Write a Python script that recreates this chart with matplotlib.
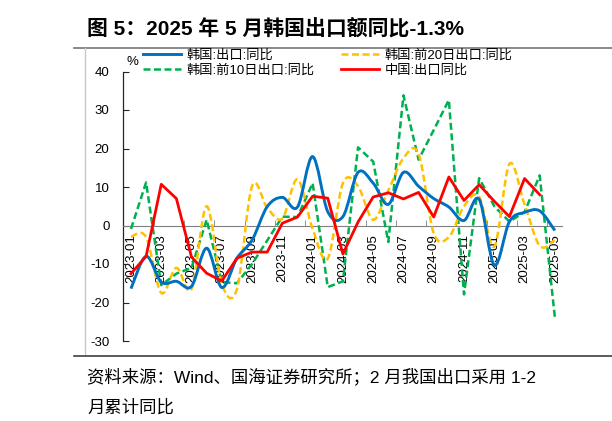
import numpy as np
import matplotlib
matplotlib.use('Agg')
import matplotlib.pyplot as plt
from matplotlib.path import Path
from matplotlib.patches import PathPatch
from matplotlib.lines import Line2D
from matplotlib.font_manager import FontProperties

plt.rcParams['font.family'] = ['Liberation Sans', 'Noto Sans CJK SC']
plt.rcParams['axes.unicode_minus'] = False

# data (%, yoy)
months = ['2023-01', '2023-02', '2023-03', '2023-04', '2023-05', '2023-06',
          '2023-07', '2023-08', '2023-09', '2023-10', '2023-11', '2023-12',
          '2024-01', '2024-02', '2024-03', '2024-04', '2024-05', '2024-06',
          '2024-07', '2024-08', '2024-09', '2024-10', '2024-11', '2024-12',
          '2025-01', '2025-02', '2025-03', '2025-04', '2025-05']
kr_export = [-16.4, -8.0, -14.7, -14.5, -15.8, -5.9, -16.1, -8.5, -3.8, 4.9,
             7.3, 4.8, 17.9, 3.6, 2.3, 13.8, 11.0, 5.5, 13.8, 10.2,
             7.0, 4.8, 1.3, 6.8, -10.3, 1.0, 3.4, 3.8, -1.3]
kr_20d = [-2.9, -3.0, -17.5, -11.0, -16.5, 5.0, -15.2, -16.5, 10.2, 4.6,
          1.8, 12.0, -0.9, -8.6, 11.0, 10.2, 1.5, 9.1, 17.5, 18.6,
          -2.0, -3.0, 5.0, 7.5, -5.5, 16.0, 5.5, -5.3, -3.8]
kr_10d = [-0.9, 11.2, -15.5, -12.5, -11.0, 1.5, -14.7, -15.0, -10.0, -3.9,
          2.3, 2.2, 11.0, -16.0, -14.5, 20.3, 16.6, -4.3, 33.8, 17.1,
          24.8, 32.6, -17.9, 12.3, 5.0, 1.0, 3.5, 13.0, -23.8]
cn_export = [-12.5, -8.0, 10.7, 7.0, -8.2, -12.4, -14.4, -8.5, -6.9, -6.9,
             0.6, 2.2, 7.6, 7.1, -7.4, 0.9, 7.4, 8.5, 6.9, 8.6,
             2.2, 12.6, 6.5, 10.6, 6.3, 2.3, 12.2, 8.0, np.nan]

c_blue = '#0070C0'
c_yellow = '#FFC000'
c_green = '#00B050'
c_red = '#FF0000'
dash = (0, (2.8, 1.4))


def smooth_path(xs, ys):
    # excel-like smoothed line: cubic bezier through every point
    pts = np.column_stack([xs, ys]).astype(float)
    n = len(pts)
    verts = [pts[0]]
    codes = [Path.MOVETO]
    for i in range(n - 1):
        p0 = pts[max(i - 1, 0)]
        p1 = pts[i]
        p2 = pts[i + 1]
        p3 = pts[min(i + 2, n - 1)]
        verts += [p1 + (p2 - p0) / 6, p2 - (p3 - p1) / 6, p2]
        codes += [Path.CURVE4] * 3
    return Path(verts, codes)


W, H = 612, 421
fig = plt.figure(figsize=(W / 100, H / 100), dpi=100)
ax = fig.add_axes([123.4 / W, 1 - 341 / H, 439 / W, 269.5 / H])

x = np.arange(len(months))
ax.plot(x, kr_10d, color=c_green, lw=1.8, linestyle=dash, zorder=3)
ax.add_patch(PathPatch(smooth_path(x, kr_20d), fill=False, edgecolor=c_yellow,
                       lw=1.8, linestyle=dash, zorder=3))
ax.add_patch(PathPatch(smooth_path(x, kr_export), fill=False, edgecolor=c_blue,
                       lw=2.1, zorder=4))
ax.plot(x, cn_export, color=c_red, lw=2.0, zorder=5)

ax.set_xlim(-0.5, len(months) - 0.5)
ax.set_ylim(-30, 40)

for s in ['top', 'right']:
    ax.spines[s].set_visible(False)
ax.spines['bottom'].set_position(('data', 0))
ax.spines['bottom'].set_color('#7F7F7F')
ax.spines['left'].set_color('#262626')
ax.spines['left'].set_linewidth(0.9)

ax.set_yticks(range(-30, 41, 10))
ax.tick_params(axis='y', direction='in', length=4, pad=10, labelsize=9.5,
               color='#262626')
ax.set_xticks(x[::2])
ax.set_xticklabels(months[::2], rotation=90)
ax.set_xticks(np.arange(1.5, len(months) - 1, 2), minor=True)
ax.tick_params(axis='x', which='major', length=0, pad=6, labelsize=9.5)
ax.tick_params(axis='x', which='minor', direction='in', length=4, color='#7F7F7F')

fig.text(132 / W, 1 - 62 / H, '%', fontsize=9.5, ha='center', va='center')

# legends
lp = FontProperties(family=['Liberation Sans', 'Noto Sans CJK SC'], size=9.5)
h1 = [Line2D([], [], color=c_blue, lw=2.1),
      Line2D([], [], color=c_green, lw=1.8, linestyle=dash)]
h2 = [Line2D([], [], color=c_yellow, lw=1.8, linestyle=dash),
      Line2D([], [], color=c_red, lw=2.0)]
kw = dict(loc='upper left', frameon=False, borderpad=0, borderaxespad=0,
          handlelength=2.9, handletextpad=0.4, labelspacing=0.22, prop=lp)
fig.legend(h1, ['韩国:出口:同比', '韩国:前10日出口:同比'],
           bbox_to_anchor=(143 / W, 1 - 49 / H), **kw)
fig.legend(h2, ['韩国:前20日出口:同比', '中国:出口同比'],
           bbox_to_anchor=(341 / W, 1 - 49 / H), **kw)

# title, frame lines, footer
fig.text(87 / W, 1 - 29 / H, '图 5：2025 年 5 月韩国出口额同比-1.3%',
         fontsize=15, fontweight='bold', ha='left', va='center')
fig.add_artist(Line2D([74 / W, 1], [1 - 47.6 / H] * 2, color='#808080', lw=1.3))
fig.add_artist(Line2D([85 / W, 85 / W], [1 - 48 / H, 1 - 355 / H],
                      color='#C8C8C8', lw=1.0))
fig.add_artist(Line2D([74 / W, 1], [1 - 356 / H] * 2, color='#404040', lw=1.2))
fig.text(87 / W, 1 - 376 / H, '资料来源：Wind、国海证券研究所；2 月我国出口采用 1-2',
         fontsize=12.5, ha='left', va='center')
fig.text(87 / W, 1 - 407 / H, '月累计同比', fontsize=12.5, ha='left', va='center')

fig.savefig('out.png', dpi=100)
